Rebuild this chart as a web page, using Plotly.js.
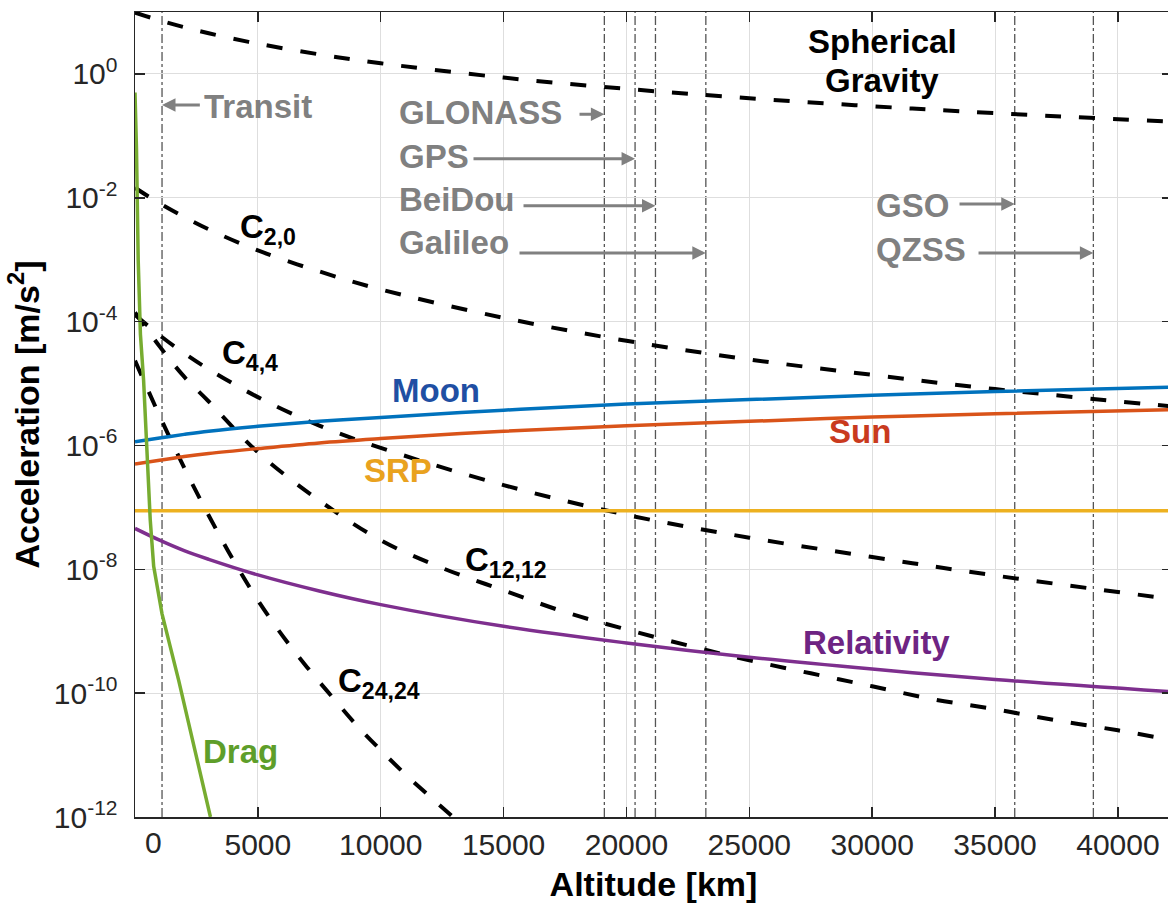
<!DOCTYPE html>
<html>
<head>
<meta charset="utf-8">
<script src="https://cdn.plot.ly/plotly-3.0.1.min.js"></script>
<style>
html,body{margin:0;padding:0;overflow:hidden;background:#fff;}
#chart{width:1172px;height:911px;}
</style>
</head>
<body>
<div id="chart"></div>
<script>
// ---------- data ----------
// common altitude grid for the smooth curves [km]
const altGrid = [0, 1000, 2000, 3000, 5000, 7500, 10000, 15000, 20000, 25000, 30000, 35000, 42200];

const gravity   = [9.80, 7.32, 5.68, 4.53, 3.08, 2.07, 1.486, 0.872, 0.573, 0.405, 0.301, 0.233, 0.169];
const c20       = [1.45e-2, 8.13e-3, 4.90e-3, 3.09e-3, 1.41e-3, 6.46e-4, 3.31e-4, 1.15e-4, 4.90e-5, 2.45e-5, 1.38e-5, 8.13e-6, 4.27e-6];
const c44       = [1.29e-4, 6.03e-5, 3.09e-5, 1.70e-5, 6.03e-6, 2.09e-6, 9.12e-7, 2.29e-7, 7.59e-8, 3.24e-8, 1.58e-8, 7.94e-9, 3.31e-9];
const moon      = [1.15e-6, 1.32e-6, 1.51e-6, 1.70e-6, 2.04e-6, 2.45e-6, 2.82e-6, 3.72e-6, 4.68e-6, 5.50e-6, 6.46e-6, 7.41e-6, 8.71e-6];
const sun       = [5.01e-7, 5.75e-7, 6.61e-7, 7.41e-7, 8.91e-7, 1.10e-6, 1.29e-6, 1.70e-6, 2.09e-6, 2.45e-6, 2.88e-6, 3.24e-6, 3.80e-6];
const relativity= [4.57e-8, 2.95e-8, 2.00e-8, 1.45e-8, 8.13e-9, 4.47e-9, 2.69e-9, 1.20e-9, 6.46e-10, 3.80e-10, 2.45e-10, 1.66e-10, 1.05e-10];

const c1212Alt  = [0, 1000, 2000, 3000, 5000, 7500, 10000, 12500, 15000, 17500, 20000, 22500, 25000, 27500, 30000, 32500, 35000, 37500, 40000, 42200];
const c1212     = [1.41e-4, 3.98e-5, 1.29e-5, 5.13e-6, 7.76e-7, 1.29e-7, 2.95e-8, 1.05e-8, 4.57e-9, 2.04e-9, 1.07e-9, 5.89e-10, 3.39e-10, 2.09e-10, 1.29e-10, 7.94e-11, 5.50e-11, 3.63e-11, 2.51e-11, 1.74e-11];

const c2424Alt  = [0, 1000, 2000, 3000, 4000, 5000, 6000, 7000, 8000, 9000, 10000, 11000, 12000, 13000];
const c2424     = [2.34e-5, 3.02e-6, 4.37e-7, 7.41e-8, 1.41e-8, 3.16e-9, 8.51e-10, 2.63e-10, 8.91e-11, 3.09e-11, 1.20e-11, 4.90e-12, 2.14e-12, 9.55e-13];

const srpAlt    = [0, 42200];
const srp       = [8.8e-8, 8.8e-8];

const dragAlt   = [0, 60, 130, 220, 350, 490, 620, 760, 960, 1100, 1775, 3070];
const drag      = [0.5, 6.3e-2, 1.0e-3, 6.3e-5, 1.12e-5, 7.9e-7, 6.3e-8, 1.12e-8, 3.55e-9, 1.91e-9, 1.62e-10, 1.0e-12];

// orbit altitudes [km] and their names
const orbitNames = ["Transit", "GLONASS", "GPS", "BeiDou", "Galileo", "GSO", "QZSS"];
const orbitAlts  = [1100, 19100, 20350, 21180, 23230, 35800, 39000];

// tick labels
const xTickVals  = [5000, 10000, 15000, 20000, 25000, 30000, 35000, 40000];
const xTickText  = ["5000", "10000", "15000", "20000", "25000", "30000", "35000", "40000"];
const yTickVals  = [1e-12, 1e-10, 1e-8, 1e-6, 1e-4, 1e-2, 1];
const yTickText  = ["10<sup>-12</sup>", "10<sup>-10</sup>", "10<sup>-8</sup>", "10<sup>-6</sup>", "10<sup>-4</sup>", "10<sup>-2</sup>", "10<sup>0</sup>"];

// ---------- styling ----------
const FONT = "'Liberation Sans', Arial, Helvetica, sans-serif";
const AX = '#262626';
const GRAY = '#808080';
const dashBlack = {color: '#000', width: 4, dash: '16px,18px'};

function curve(x, y, line, shape) {
  return {x: x, y: y, type: 'scatter', mode: 'lines', line: Object.assign({shape: shape || 'spline', smoothing: 1}, line), hoverinfo: 'skip', showlegend: false};
}

const traces = [
  curve(altGrid, gravity, dashBlack),
  curve(altGrid, c20, dashBlack),
  curve(altGrid, c44, dashBlack),
  curve(c1212Alt, c1212, dashBlack),
  curve(c2424Alt, c2424, dashBlack),
  curve(srpAlt, srp, {color: '#EDB120', width: 3.5}, 'linear'),
  curve(altGrid, sun, {color: '#D95319', width: 3.5}),
  curve(altGrid, moon, {color: '#0072BD', width: 3.5}),
  curve(altGrid, relativity, {color: '#7E2F8E', width: 3.5}),
  curve(dragAlt, drag, {color: '#77AC30', width: 3.5}, 'linear')
];

// vertical orbit lines
const shapes = orbitAlts.map(a => ({
  type: 'line', xref: 'x', yref: 'paper', x0: a, x1: a, y0: 0, y1: 1,
  line: {color: '#555', width: 1.3, dash: 'dashdot'}, layer: 'below'
}));

function txt(x, y, text, color, size, xanchor) {
  return {x: x, y: y, xref: 'x', yref: 'y', text: text, showarrow: false,
          xanchor: xanchor || 'center', yanchor: 'middle',
          font: {family: FONT, size: size || 33, color: color}};
}
function arrow(xTip, xTail, yLog) {
  return {x: xTip, y: yLog, ax: xTail, ay: yLog, xref: 'x', yref: 'y', axref: 'x', ayref: 'y',
          text: '', showarrow: true, arrowhead: 2, arrowsize: 0.9, arrowwidth: 3, arrowcolor: GRAY, standoff: 0};
}

const annotations = [
  // labels of orbits
  txt(2727, -0.52, '<b>' + orbitNames[0] + '</b>', GRAY, 33, 'left'),
  arrow(orbitAlts[0], 2700, -0.50),
  txt(10662, -0.63, '<b>' + orbitNames[1] + '</b>', GRAY, 33, 'left'),
  arrow(orbitAlts[1], 18028, -0.65),
  txt(10662, -1.34, '<b>' + orbitNames[2] + '</b>', GRAY, 33, 'left'),
  arrow(orbitAlts[2], 13714, -1.37),
  txt(10662, -2.02, '<b>' + orbitNames[3] + '</b>', GRAY, 33, 'left'),
  arrow(orbitAlts[3], 15749, -2.13),
  txt(10662, -2.72, '<b>' + orbitNames[4] + '</b>', GRAY, 33, 'left'),
  arrow(orbitAlts[4], 15586, -2.89),
  txt(30074, -2.12, '<b>' + orbitNames[5] + '</b>', GRAY, 33, 'left'),
  arrow(orbitAlts[5], 33492, -2.10),
  txt(30074, -2.84, '<b>' + orbitNames[6] + '</b>', GRAY, 33, 'left'),
  arrow(orbitAlts[6], 34266, -2.89),
  // series labels
  txt(30400, 0.52, '<b>Spherical</b>', '#000', 33),
  txt(30400, -0.10, '<b>Gravity</b>', '#000', 33),
  txt(4192, -2.50, '<b>C<sub>2,0</sub></b>', '#000', 33, 'left'),
  txt(3459, -4.54, '<b>C<sub>4,4</sub></b>', '#000', 33, 'left'),
  txt(13348, -7.88, '<b>C<sub>12,12</sub></b>', '#000', 33, 'left'),
  txt(8180, -9.83, '<b>C<sub>24,24</sub></b>', '#000', 33, 'left'),
  txt(12249, -5.12, '<b>Moon</b>', '#1F4FA3', 33),
  txt(29504, -5.78, '<b>Sun</b>', '#C93A1E', 33),
  txt(10703, -6.40, '<b>SRP</b>', '#E9A21F', 33),
  txt(30155, -9.18, '<b>Relativity</b>', '#6E2483', 33),
  txt(4273, -10.94, '<b>Drag</b>', '#5E9E2A', 33),
  // zero label of the x axis
  {x: 733, y: 0, xref: 'x', yref: 'paper', text: '0', showarrow: false, xanchor: 'center', yanchor: 'middle',
   yshift: -25, font: {family: FONT, size: 30, color: AX}}
];

const layout = {
  width: 1172, height: 911,
  margin: {l: 135, r: 0, t: 12, b: 94, pad: 0},
  paper_bgcolor: '#fff', plot_bgcolor: '#fff',
  font: {family: FONT, color: AX},
  showlegend: false,
  xaxis: {
    range: [0, 42200], tickvals: xTickVals, ticktext: xTickText,
    ticks: 'inside', ticklen: 10, tickwidth: 1.5, tickcolor: AX,
    showline: true, linecolor: AX, linewidth: 1.5, mirror: 'ticks',
    showgrid: true, gridcolor: '#dedede', gridwidth: 1, zeroline: false,
    tickfont: {size: 30, color: AX, family: FONT}, ticklabelstandoff: 0,
    title: {text: '<b>Altitude [km]</b>', font: {size: 34, color: '#000', family: FONT}, standoff: 12},
    automargin: false
  },
  yaxis: {
    type: 'log', range: [-12, 1], tickvals: yTickVals, ticktext: yTickText,
    ticks: 'inside', ticklen: 10, tickwidth: 1.5, tickcolor: AX,
    showline: true, linecolor: AX, linewidth: 1.5, mirror: 'ticks',
    showgrid: true, gridcolor: '#dedede', gridwidth: 1, zeroline: false,
    tickfont: {size: 30, color: AX, family: FONT}, ticklabelstandoff: 10,
    title: {text: '<b>Acceleration [m/s<sup>2</sup>]</b>', font: {size: 34, color: '#000', family: FONT}, standoff: 4},
    automargin: false
  },
  shapes: shapes,
  annotations: annotations
};

Plotly.newPlot('chart', traces, layout, {displayModeBar: false, staticPlot: true});
</script>
</body>
</html>
